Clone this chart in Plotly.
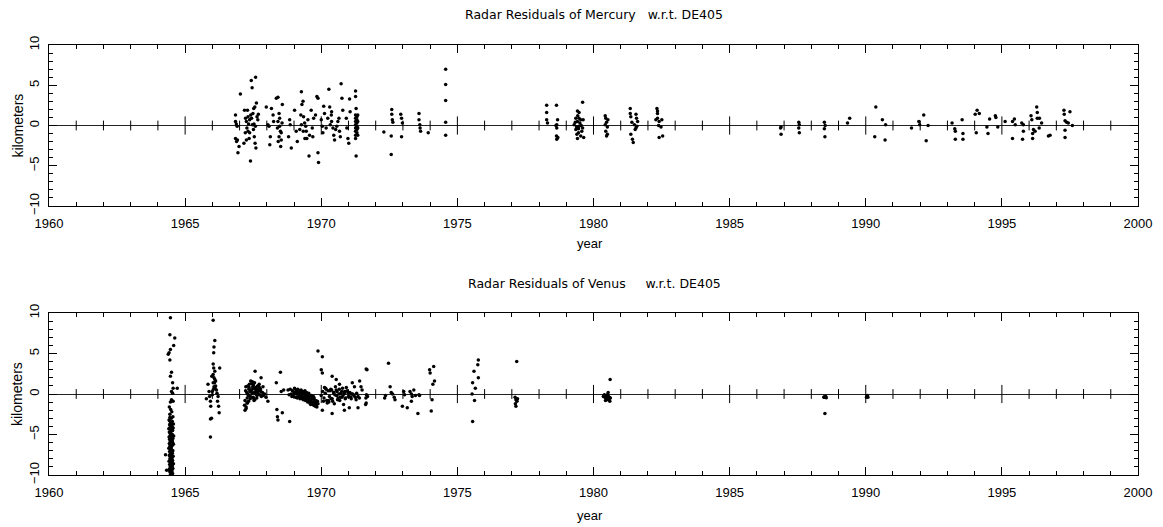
import plotly.graph_objects as go

# ---------------- Mercury radar residuals (year, km) ----------------
mercury_year = [
    # 1966.8 - 1967.7
    1966.85, 1966.85, 1966.88, 1966.91, 1966.85, 1966.92, 1966.94, 1966.98, 1966.89, 1967.03,
    1967.16, 1967.18, 1967.21, 1967.22, 1967.25, 1967.27, 1967.29, 1967.31, 1967.31, 1967.33,
    1967.35, 1967.37, 1967.37, 1967.40, 1967.41, 1967.43, 1967.44, 1967.46, 1967.47, 1967.49,
    1967.51, 1967.52, 1967.53, 1967.54, 1967.56, 1967.57, 1967.58, 1967.59, 1967.60, 1967.62,
    1967.64, 1967.67, 1967.69, 1967.25,
    # 1968
    1967.98, 1968.04, 1968.08, 1968.13, 1968.11, 1968.17, 1968.23, 1968.25, 1968.35, 1968.41,
    1968.45, 1968.47, 1968.41, 1968.47, 1968.50, 1968.45, 1968.53, 1968.42, 1968.51, 1968.57,
    1968.56, 1968.39, 1968.53,
    # 1969
    1968.84, 1968.86, 1968.90, 1968.80, 1969.02, 1969.08, 1969.12, 1969.21, 1969.25, 1969.27,
    1969.29, 1969.33, 1969.35, 1969.39, 1969.43, 1969.45, 1969.47, 1969.51, 1969.55, 1969.57,
    1969.63, 1969.67, 1969.69, 1969.72, 1969.34, 1969.40, 1969.27, 1969.79,
    # 1970
    1969.84, 1969.88, 1969.88, 1969.90, 1970.00, 1970.04, 1970.06, 1970.09, 1970.12, 1970.18,
    1970.24, 1970.28, 1970.31, 1970.33, 1970.37, 1970.38, 1970.43, 1970.46, 1970.49, 1970.53,
    1970.61, 1970.65, 1970.67, 1970.70, 1970.73, 1970.76, 1970.79, 1970.57, 1970.38,
    # 1971
    1970.94, 1970.98, 1971.01, 1971.04, 1971.06, 1970.92, 1971.26, 1971.26, 1971.28, 1971.26,
    1971.26, 1971.26, 1971.26, 1971.26, 1971.26, 1971.26, 1971.26, 1971.28, 1971.31, 1971.31,
    1971.31, 1971.31, 1971.31, 1971.31, 1971.34, 1971.34, 1971.34, 1971.34,
    # 1972 - 1974
    1972.30, 1972.59, 1972.59, 1972.61, 1972.63, 1972.57, 1972.57, 1972.95, 1972.98, 1972.95,
    1972.92, 1973.59, 1973.59, 1973.62, 1973.63, 1973.65, 1973.93, 1974.57, 1974.57, 1974.57,
    1974.57, 1974.57,
    # 1978 - 1979
    1978.28, 1978.28, 1978.28, 1978.31, 1978.64, 1978.68, 1978.65, 1978.65, 1978.64, 1978.65,
    1978.69, 1978.62,
    1979.60, 1979.41, 1979.47, 1979.35, 1979.41, 1979.53, 1979.29, 1979.47, 1979.60, 1979.35,
    1979.45, 1979.53, 1979.41, 1979.62, 1979.33, 1979.50, 1979.57, 1979.39, 1979.47, 1979.42,
    1979.38, 1979.55, 1979.64, 1979.45,
    # 1980 - 1982
    1980.43, 1980.45, 1980.48, 1980.51, 1980.45, 1980.48, 1980.51, 1980.43, 1980.53,
    1981.35, 1981.35, 1981.37, 1981.56, 1981.58, 1981.41, 1981.50, 1981.56, 1981.59, 1981.37,
    1981.43, 1981.46, 1981.53, 1981.62,
    1982.33, 1982.35, 1982.35, 1982.29, 1982.41, 1982.39, 1982.48, 1982.51, 1982.41, 1982.54,
    1982.35,
    # 1986 - 1997
    1986.87, 1986.89, 1986.89, 1987.54, 1987.54, 1987.56, 1987.56, 1988.48, 1988.48, 1988.50,
    1988.51, 1989.33, 1989.41, 1990.37, 1990.61, 1990.73, 1990.33, 1990.71,
    1991.68, 1991.95, 1991.98, 1992.13, 1992.29, 1992.22,
    1993.17, 1993.27, 1993.29, 1993.29, 1993.54, 1993.57, 1993.57,
    1994.02, 1994.09, 1994.17, 1994.06, 1994.45, 1994.49, 1994.55, 1994.76, 1994.78, 1994.85,
    1995.12, 1995.39, 1995.46, 1995.49, 1995.39, 1995.73, 1995.79, 1995.79, 1995.76,
    1996.07, 1996.10, 1996.16, 1996.13, 1996.13, 1996.22, 1996.28, 1996.30, 1996.30, 1996.38,
    1996.37, 1996.46, 1996.71, 1996.77,
    1997.28, 1997.29, 1997.32, 1997.38, 1997.44, 1997.50, 1997.59, 1997.32, 1997.32,
]
mercury_km = [
    1.3, 0.5, 0.2, -0.1, -1.6, -1.8, -3.4, -2.6, -2.0, 3.9,
    -2.2, 1.9, -0.9, 0.9, 0.5, -0.3, 1.9, -0.7, 1.1, 0.2,
    -1.6, -0.9, 0.7, -4.4, 1.3, 5.6, 0.9, 4.7, 0.1, 1.5,
    -0.5, 2.1, 0.2, -1.4, 2.3, -2.2, -0.1, 6.0, -2.8, 2.8,
    1.1, 0.7, 1.4, -1.8,
    2.3, 0.1, -0.1, -1.4, -2.4, 2.1, 1.3, 0.5, 3.4, 3.5,
    1.5, 0.9, 0.5, -0.1, -0.7, -1.4, -1.8, -2.0, -2.6, 2.6,
    0.3, -0.3, -0.9,
    0.7, 0.1, -2.8, -1.4, 1.9, -0.7, -2.0, -0.5, 1.3, 4.2,
    2.6, 3.0, 1.1, 0.3, -0.1, -0.7, -1.6, 0.7, -3.8, -1.2,
    1.9, -0.3, -1.4, 0.9, -0.7, -1.6, 0.1, 1.3,
    3.6, 3.4, -3.4, -4.6, 0.7, -0.1, -0.9, 2.4, 1.5, -0.3,
    0.9, 4.5, 2.3, 0.1, 1.3, 1.7, -0.3, -1.2, -1.8, -0.5,
    0.5, 0.9, -0.7, -1.4, 5.2, 3.4, 1.9, -0.1, 0.5,
    -0.3, -1.6, -2.2, 3.3, 1.7, 0.9, 4.3, 3.6, 2.1, 1.3,
    0.9, 0.5, 0.1, -0.3, -0.7, -1.2, -1.6, -3.8, 1.1, 0.7,
    0.3, -0.1, -0.5, -0.9, 1.3, 0.5, -0.3, -1.2,
    -0.8, 2.0, 1.4, 0.7, 0.4, -1.3, -3.6, 0.9, 0.3, -1.4,
    1.4, 1.5, 0.7, 0.1, -0.3, -0.7, -0.9, 7.0, 5.1, 3.1,
    0.4, -1.2,
    2.5, 1.6, 0.7, 0.3, 2.5, 0.7, 0.1, -0.3, -1.3, -1.7,
    -1.5, 0.0,
    2.9, 1.8, 1.6, 0.9, 0.5, 0.7, 0.1, -0.1, -0.3, -0.5,
    -0.9, -1.3, -1.6, 0.7, 0.4, 0.3, -0.7, -1.1, 0.9, 1.2,
    -0.2, 0.0, -1.5, -0.4,
    1.2, 0.9, 0.4, -0.2, -0.7, -1.3, -1.1, 0.1, 0.7,
    2.1, 1.5, 1.1, 1.4, 0.9, 0.4, 0.1, -0.3, -0.1, -1.1,
    -1.7, -2.1, -0.5, 0.5,
    2.1, 1.8, 1.5, 0.7, 0.5, 0.0, -0.2, 0.7, -1.5, -1.3,
    0.9,
    -0.3, -0.2, -1.1, 0.4, -0.3, -0.9, 0.1, 0.4, -0.4, -1.4,
    0.0, 0.3, 0.9, 2.3, 0.7, 0.1, -1.4, -1.8,
    -0.3, 0.5, 0.1, 1.3, 0.0, -1.9,
    0.3, -0.4, -0.7, -1.7, 0.7, -1.0, -1.7,
    1.4, 1.9, 1.5, -0.9, -0.2, -1.0, 0.8, 1.2, 1.0, -0.2,
    0.5, 0.5, 0.8, 0.1, -1.6, 0.3, 0.1, -0.7, -1.7,
    1.2, 0.7, -0.5, -1.0, -1.6, -0.7, 2.3, 1.6, 0.9, 0.9,
    -0.3, 0.3, -1.3, -1.2,
    1.9, 1.4, 0.6, 0.4, 0.3, 1.7, 0.0, -0.6, -1.5,
]

# ---------------- Venus radar residuals (year, km) ----------------
venus_year = [
    # 1964 conjunction
    1964.46, 1964.44, 1964.62, 1964.58, 1964.41, 1964.46, 1964.38, 1964.44, 1964.50, 1964.46,
    1964.54, 1964.56, 1964.71, 1964.50, 1964.54, 1964.50, 1964.46, 1964.56, 1964.28, 1964.32,
    1964.42, 1964.47, 1964.51, 1964.44, 1964.55, 1964.49, 1964.41, 1964.53, 1964.46, 1964.57,
    1964.43, 1964.48, 1964.52, 1964.45, 1964.56, 1964.40, 1964.50, 1964.54, 1964.47, 1964.42,
    1964.44, 1964.49, 1964.53, 1964.46, 1964.58, 1964.41, 1964.51, 1964.55, 1964.43, 1964.48,
    1964.45, 1964.50, 1964.54, 1964.42, 1964.57, 1964.47, 1964.52, 1964.44, 1964.49, 1964.40,
    1964.46, 1964.51, 1964.55, 1964.43, 1964.48, 1964.53, 1964.45, 1964.50, 1964.42, 1964.56,
    1964.47, 1964.52, 1964.44, 1964.49, 1964.54, 1964.41, 1964.46, 1964.51, 1964.57, 1964.43,
    1964.48, 1964.53, 1964.45, 1964.50, 1964.55, 1964.42, 1964.47, 1964.52, 1964.44, 1964.49,
    1964.54, 1964.46, 1964.51, 1964.43, 1964.48, 1964.53, 1964.45, 1964.50, 1964.47, 1964.52,
    1964.44, 1964.49, 1964.46, 1964.51, 1964.48, 1964.53, 1964.45, 1964.50,
    # 1966
    1965.84, 1965.88, 1965.90, 1965.93, 1965.94, 1965.93, 1965.97, 1965.93, 1966.00, 1966.03,
    1966.05, 1966.06, 1966.09, 1966.03, 1966.05, 1966.09, 1966.03, 1966.06, 1966.09, 1966.03,
    1966.06, 1966.10, 1966.00, 1966.04, 1966.12, 1966.15, 1966.17, 1966.21, 1966.19, 1966.23,
    1966.25, 1966.27, 1965.98, 1966.08, 1966.12, 1965.78,
    # 1967.5
    1967.18, 1967.20, 1967.22, 1967.24, 1967.20, 1967.26, 1967.28, 1967.23, 1967.30, 1967.32,
    1967.34, 1967.29, 1967.36, 1967.38, 1967.40, 1967.35, 1967.42, 1967.44, 1967.39, 1967.46,
    1967.48, 1967.43, 1967.50, 1967.52, 1967.47, 1967.54, 1967.56, 1967.51, 1967.58, 1967.60,
    1967.55, 1967.62, 1967.64, 1967.59, 1967.66, 1967.68, 1967.63, 1967.70, 1967.72, 1967.67,
    1967.74, 1967.76, 1967.71, 1967.78, 1967.80, 1967.75, 1967.84, 1967.88, 1967.92, 1967.97,
    1967.57, 1967.79, 1967.33, 1967.45, 1967.61, 1967.27, 1967.41, 1967.53, 1967.65, 1967.86,
    1967.24, 1967.31, 1967.49, 1967.69, 1968.04,
    # 1968
    1968.35, 1968.37, 1968.39, 1968.41, 1968.50, 1968.57, 1968.53, 1968.62, 1968.84,
    # 1969
    1968.78, 1968.82, 1968.86, 1968.90, 1968.94, 1968.98, 1969.02, 1969.04, 1969.06, 1969.08,
    1969.10, 1969.12, 1969.14, 1969.16, 1969.18, 1969.20, 1969.22, 1969.24, 1969.26, 1969.28,
    1969.30, 1969.32, 1969.34, 1969.36, 1969.38, 1969.40, 1969.42, 1969.44, 1969.46, 1969.48,
    1969.50, 1969.52, 1969.54, 1969.56, 1969.58, 1969.60, 1969.62, 1969.64, 1969.66, 1969.68,
    1969.70, 1969.72, 1969.74, 1969.76, 1969.78, 1969.80, 1969.82, 1969.84, 1969.86, 1969.88,
    1969.05, 1969.15, 1969.25, 1969.35, 1969.45, 1969.55, 1969.65, 1969.75, 1969.11, 1969.21,
    1969.31, 1969.41, 1969.51, 1969.61, 1969.71, 1969.81, 1968.92, 1969.00,
    # 1970 - 1971
    1969.88, 1970.04, 1970.00, 1970.04, 1970.40, 1970.55, 1970.67, 1970.04, 1970.40, 1970.85,
    1970.92, 1971.14, 1971.22, 1971.65, 1971.65, 1971.63, 1971.03,
    1970.00, 1970.05, 1970.10, 1970.15, 1970.20, 1970.25, 1970.30, 1970.35, 1970.40, 1970.45,
    1970.50, 1970.55, 1970.60, 1970.65, 1970.70, 1970.75, 1970.80, 1970.85, 1970.90, 1970.95,
    1971.00, 1971.05, 1971.10, 1971.15, 1971.20, 1971.25, 1971.30, 1971.35, 1971.40, 1970.08,
    1970.18, 1970.28, 1970.38, 1970.48, 1970.58, 1970.68, 1970.78, 1970.88, 1970.98, 1971.08,
    1971.18, 1971.28, 1970.12, 1970.22, 1970.32, 1970.42, 1970.52, 1970.62, 1970.72, 1970.82,
    1970.36, 1970.46, 1970.56, 1970.66, 1970.26, 1970.16, 1970.76, 1970.86, 1971.02, 1971.12,
    # 1971.5 - 1974
    1971.68, 1971.41, 1971.35, 1971.46, 1971.50, 1971.66, 1971.64, 1971.70,
    1972.33, 1972.36, 1972.47, 1972.53, 1972.57, 1972.62, 1972.68, 1972.71, 1972.98, 1973.03,
    1973.06, 1973.16, 1973.26, 1973.31, 1973.34, 1973.40, 1973.46, 1973.55, 1973.59, 1973.61,
    1973.31,
    1973.98, 1974.00, 1974.10, 1974.16, 1974.07, 1974.04, 1974.13,
    # 1975 - 1977
    1975.56, 1975.54, 1975.63, 1975.56, 1975.66, 1975.77, 1975.61, 1975.75, 1975.77,
    1977.18, 1977.12, 1977.15, 1977.19, 1977.13, 1977.15, 1977.21,
    # 1980.5
    1980.61, 1980.54, 1980.51, 1980.39, 1980.45, 1980.57, 1980.60, 1980.49, 1980.42, 1980.55,
    1980.36, 1980.48, 1980.53, 1980.44, 1980.58, 1980.50, 1980.40, 1980.56, 1980.47, 1980.62,
    # 1988 - 1990
    1988.46, 1988.50, 1988.53, 1988.50, 1988.55, 1988.48,
    1990.05, 1990.08, 1990.03, 1990.06,
]
venus_km = [
    9.4, 7.3, 6.9, 6.0, 5.1, 5.5, 4.9, 4.2, 2.7, 2.2,
    1.4, 0.7, 0.7, 0.3, 0.1, -0.7, -1.0, -0.9, -7.5, -9.4,
    -1.6, -1.9, -2.2, -2.5, -2.8, -3.0, -3.2, -3.4, -3.6, -3.7,
    -3.8, -3.9, -4.0, -4.1, -4.2, -4.3, -4.4, -4.5, -4.6, -4.7,
    -4.8, -4.9, -5.0, -5.1, -5.2, -5.3, -5.4, -5.5, -5.6, -5.7,
    -5.8, -5.9, -6.0, -6.1, -6.2, -6.3, -6.4, -6.5, -6.6, -6.7,
    -6.8, -6.9, -7.0, -7.1, -7.2, -7.3, -7.4, -7.5, -7.6, -7.7,
    -7.8, -7.9, -8.0, -8.1, -8.2, -8.3, -8.4, -8.5, -8.6, -8.7,
    -8.8, -8.9, -9.0, -9.1, -9.2, -9.3, -9.4, -9.5, -9.6, -9.7,
    -9.8, -9.9, -10.0, -3.3, -4.5, -5.8, -6.4, -7.2, -8.3, -9.1,
    -2.9, -4.0, -5.2, -6.9, -7.8, -8.6, -9.5, -9.9,
    1.2, 0.3, -0.3, -0.9, -1.5, -3.1, -3.0, -5.3, 0.3, 9.1,
    5.1, 5.8, 6.6, 3.7, 3.2, 2.8, 2.4, 2.0, 1.8, 1.4,
    0.9, 0.7, -0.1, 0.6, 1.6, 0.5, 0.1, -0.3, -0.9, -1.5,
    -2.3, 3.2, 2.2, 1.4, 1.0, -0.6,
    -1.4, -2.0, 0.4, -1.6, -0.8, 0.2, -0.5, 0.9, 1.0, -0.2,
    0.6, -1.1, 1.2, 0.3, -0.3, 0.8, 0.5, 1.3, -0.6, 0.1,
    0.9, 0.4, -0.4, 0.7, 1.5, 0.2, -0.7, 1.1, 0.6, 0.0,
    1.4, 0.3, -0.2, 0.8, 1.0, 0.5, -0.5, 0.4, 1.2, 0.1,
    -0.1, 0.6, 0.9, 0.3, -0.3, 0.7, 0.2, -0.2, 0.0, -0.4,
    2.8, 2.0, -0.9, 0.5, 0.7, -1.1, 1.6, -0.8, 0.2, 0.9,
    -1.8, 0.0, -0.5, 0.4, -0.9,
    1.4, -1.9, -2.8, -3.2, 2.7, -2.3, 0.3, 0.5, -3.4,
    0.5, -0.1, 0.6, 0.0, 0.4, -0.3, 0.7, 0.1, -0.4, 0.5,
    0.0, -0.5, 0.6, 0.2, -0.3, 0.4, -0.6, 0.1, 0.5, -0.4,
    -0.1, 0.3, -0.7, 0.0, -0.4, 0.4, -0.8, -0.2, 0.2, -0.6,
    -1.0, -0.3, 0.1, -0.7, -1.1, -0.4, -0.9, -0.2, -1.2, -0.6,
    -1.0, -1.4, -0.5, -1.1, -1.5, -0.8, -1.3, -1.6, -0.9, -1.2,
    0.2, -0.1, -0.2, 0.2, -0.5, -0.2, -0.6, -0.8, 0.3, 0.1,
    -0.6, -0.1, -0.7, -1.3, -0.3, -1.0, -0.3, 0.2,
    5.3, 4.6, 3.0, 2.6, 2.2, 1.8, 1.2, -2.0, -2.4, -2.0,
    0.8, 1.4, 0.9, 3.1, -1.1, -1.3, -1.7,
    -0.2, 0.3, -0.5, 0.1, -0.8, 0.4, -0.3, 0.6, -0.6, 0.2,
    -0.1, 0.5, -0.7, 0.0, -0.4, 0.3, -0.2, 0.1, -0.5, 0.4,
    -0.3, 0.2, -0.6, 0.0, -0.2, -0.4, 0.1, -0.3, -0.5, -0.9,
    0.6, -1.0, 0.5, -1.2, 0.3, -0.8, 0.7, -0.6, 0.2, -0.4,
    -0.1, -0.7, 0.8, -1.1, 0.4, -0.9, 0.9, -0.5, 0.1, -1.3,
    -0.6, 0.2, -0.2, 0.6, -0.8, 0.7, -0.4, 0.3, -0.3, 0.0,
    3.0, 1.6, -1.7, 0.9, 0.5, -0.1, -0.5, -0.3,
    -0.5, -0.2, 3.8, 0.9, 0.2, 0.0, -0.4, -0.7, -1.5, 0.3,
    -0.1, -1.7, 0.3, 0.0, -0.3, 0.5, -0.2, -2.4, -0.1, -0.2,
    -0.9,
    3.0, 2.6, 1.2, 1.6, -0.7, -2.1, 3.4,
    -3.4, 0.0, -0.8, 1.4, 0.7, 2.0, 2.8, 3.6, 4.2,
    4.0, -0.4, -0.7, -0.9, -1.2, -1.5, -0.6,
    1.8, 0.2, -0.1, -0.2, -0.5, -0.6, -0.9, -0.7, -0.4, -0.3,
    -0.3, -0.2, -0.5, -0.8, -0.4, -0.6, -0.1, -0.7, -0.3, -0.5,
    -0.4, -0.4, -0.3, -2.4, -0.45, -0.35,
    -0.3, -0.4, -0.4, -0.2,
]

NB = "\u00a0"
titles = ["Radar Residuals of Mercury" + NB * 3 + "w.r.t. DE405",
          "Radar Residuals of Venus" + NB * 5 + "w.r.t. DE405"]
year_ticks = [1960, 1965, 1970, 1975, 1980, 1985, 1990, 1995, 2000]
km_ticks = [-10, -5, 0, 5, 10]

# year marks drawn across the zero line
zero_minor_years = [y for y in range(1961, 2000) if y % 5 != 0]
zero_major_years = [1965, 1970, 1975, 1980, 1985, 1990, 1995]

FONT = "Liberation Sans, Arial, sans-serif"
TITLE_FONT = "DejaVu Sans, Verdana, sans-serif"

W, H = 1163, 527
x_dom = [49 / W, 1138 / W]
panels = [
    dict(top=45, bottom=206, title_y=14, label_y=243),
    dict(top=313, bottom=475, title_y=283, label_y=515),
]

fig = go.Figure()
series = [(mercury_year, mercury_km), (venus_year, venus_km)]

for i, (p, (xs, ys)) in enumerate(zip(panels, series)):
    xa = "x" if i == 0 else "x2"
    ya = "y" if i == 0 else "y2"
    # zero line ticks
    fig.add_trace(go.Scatter(
        x=zero_minor_years, y=[0] * len(zero_minor_years), xaxis=xa, yaxis=ya,
        mode="markers", hoverinfo="skip", showlegend=False, cliponaxis=False,
        marker=dict(symbol="line-ns", size=7, line=dict(color="black", width=1))))
    fig.add_trace(go.Scatter(
        x=zero_major_years, y=[0] * len(zero_major_years), xaxis=xa, yaxis=ya,
        mode="markers", hoverinfo="skip", showlegend=False, cliponaxis=False,
        marker=dict(symbol="line-ns", size=13, line=dict(color="black", width=1))))
    # residuals
    fig.add_trace(go.Scatter(
        x=xs, y=ys, xaxis=xa, yaxis=ya, mode="markers", showlegend=False,
        marker=dict(color="black", size=3.5, line=dict(width=0))))

    dom_y = [1 - p["bottom"] / H, 1 - p["top"] / H]
    xaxis = dict(
        domain=x_dom, range=[1960, 2000], anchor=ya, automargin=False,
        tickvals=year_ticks, ticktext=[str(t) for t in year_ticks],
        ticks="inside", ticklen=8, tickwidth=1, tickcolor="black",
        ticklabelstandoff=5,
        minor=dict(dtick=1, ticks="inside", ticklen=4, tickcolor="black", tickwidth=1),
        showline=True, linecolor="black", linewidth=1, mirror="ticks",
        showgrid=False, zeroline=False,
        tickfont=dict(family=FONT, size=13, color="black"),
    )
    yaxis = dict(
        domain=dom_y, range=[-10, 10], anchor=xa, automargin=False,
        tickvals=km_ticks, tickangle=-90,
        ticks="inside", ticklen=8, tickwidth=1, tickcolor="black",
        ticklabelstandoff=4,
        minor=dict(dtick=1, ticks="inside", ticklen=4, tickcolor="black", tickwidth=1),
        showline=True, linecolor="black", linewidth=1, mirror="ticks",
        showgrid=False, zeroline=True, zerolinecolor="#222", zerolinewidth=1.4,
        tickfont=dict(family=FONT, size=13, color="black"),
    )
    if i == 0:
        fig.update_layout(xaxis=xaxis, yaxis=yaxis)
    else:
        fig.update_layout(xaxis2=xaxis, yaxis2=yaxis)

    fig.add_annotation(text=titles[i], xref="paper", yref="paper",
                       x=594 / W, y=1 - p["title_y"] / H, showarrow=False,
                       xanchor="center", yanchor="middle",
                       font=dict(family=TITLE_FONT, size=12.5, color="black"))
    fig.add_annotation(text="year", xref="paper", yref="paper",
                       x=590 / W, y=1 - p["label_y"] / H, showarrow=False,
                       xanchor="center", yanchor="middle",
                       font=dict(family=FONT, size=13, color="black"))
    fig.add_annotation(text="kilometers", xref="paper", yref="paper",
                       x=17 / W, y=1 - (p["top"] + p["bottom"]) / 2 / H, showarrow=False,
                       textangle=-90, xanchor="center", yanchor="middle",
                       font=dict(family=FONT, size=14, color="black"))

fig.update_layout(
    width=W, height=H, margin=dict(l=0, r=0, t=0, b=0, pad=0, autoexpand=False),
    paper_bgcolor="white", plot_bgcolor="white",
)

fig.write_html("out.html")
